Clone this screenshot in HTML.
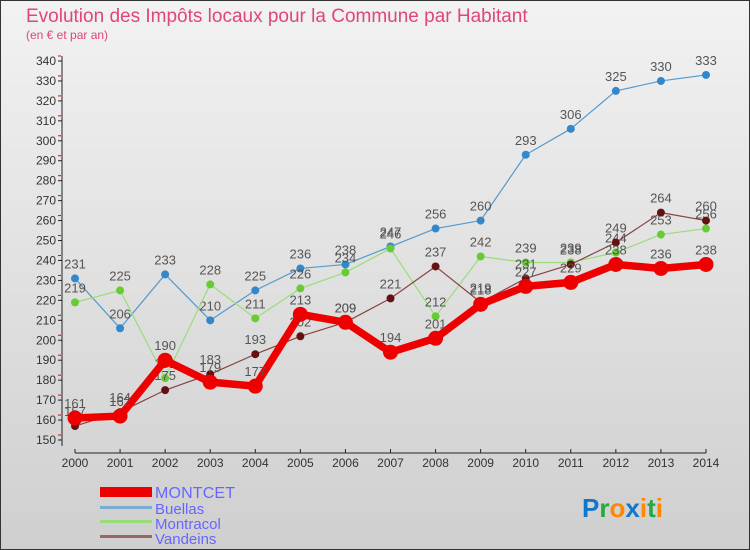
<!DOCTYPE html>
<html><head><meta charset="utf-8"><style>
body{margin:0;width:750px;height:550px;overflow:hidden;font-family:"Liberation Sans",sans-serif}
svg{display:block}
text{font-family:"Liberation Sans",sans-serif}
</style></head><body>
<svg id="c" width="750" height="550" viewBox="0 0 750 550">
<defs><linearGradient id="bg" x1="0" y1="0" x2="0" y2="1"><stop offset="0" stop-color="#f2f2f2"/><stop offset="1" stop-color="#cfcfcf"/></linearGradient></defs>
<rect x="0.5" y="0.5" width="749" height="549" fill="url(#bg)" stroke="#333"/>
<text x="26" y="22" font-size="19" fill="#e0457b">Evolution des Impôts locaux pour la Commune par Habitant</text>
<text x="26" y="39" font-size="12" fill="#e0457b">(en € et par an)</text>
<g id="axes"></g><g id="series"></g>
<g>
<rect x="100" y="487" width="52" height="10" fill="#e00"/>
<text x="155" y="498" font-size="16" fill="#6666ff" textLength="80">MONTCET</text>
<rect x="100" y="506" width="52" height="3" fill="#7aaed0"/>
<text x="155" y="514" font-size="15" fill="#6666ff">Buellas</text>
<rect x="100" y="520" width="52" height="3" fill="#99dd77"/>
<text x="155" y="529" font-size="15" fill="#6666ff">Montracol</text>
<rect x="100" y="535" width="52" height="3" fill="#996666"/>
<text x="155" y="544" font-size="15" fill="#6666ff">Vandeins</text>
</g>
<text x="582" y="517" font-size="26" font-weight="bold"><tspan fill="#1177cc">P</tspan><tspan fill="#22aa44">r</tspan><tspan fill="#ff8800">o</tspan><tspan fill="#1177cc">x</tspan><tspan fill="#ff8800">i</tspan><tspan fill="#22aa44">t</tspan><tspan fill="#ff8800">i</tspan></text>
</svg>
<script>
const years=[2000,2001,2002,2003,2004,2005,2006,2007,2008,2009,2010,2011,2012,2013,2014];
const montcet=[161,162,190,179,177,213,209,194,201,218,227,229,238,236,238];
const buellas=[231,206,233,210,225,236,238,247,256,260,293,306,325,330,333];
const montracol=[219,225,181,228,211,226,234,246,212,242,239,239,244,253,256];
const vandeins=[157,164,175,183,193,202,209,221,237,219,231,238,249,264,260];
const yTicks=[150,160,170,180,190,200,210,220,230,240,250,260,270,280,290,300,310,320,330,340];
const NS="http://www.w3.org/2000/svg";
const xS=i=>75+i*(706-75)/(years.length-1);
const yS=v=>440-(v-150)*(379/190);
function mk(t,a,p){const e=document.createElementNS(NS,t);for(const k in a)e.setAttribute(k,a[k]);p.appendChild(e);return e;}
const ax=document.getElementById('axes');
const yl=mk('line',{x1:62,y1:56,x2:62,y2:446,stroke:'#222'},ax);


const xl=mk('line',{x1:75,y1:453,x2:706,y2:453,stroke:'#222'},ax);


yTicks.forEach(v=>{
 const y=yS(v);
 mk('line',{x1:58,y1:y,x2:62,y2:y,stroke:'#222'},ax);
 mk('line',{x1:58,y1:y-5,x2:61,y2:y-5,stroke:'#e00'},ax);
 const t=mk('text',{x:56,y:y+4,'font-size':12,fill:'#333','text-anchor':'end'},ax);
 t.textContent=v;
 
 
});
years.forEach((yr,i)=>{
 const x=xS(i);
 mk('line',{x1:x,y1:449,x2:x,y2:453,stroke:'#222'},ax);
 const t=mk('text',{x:x,y:467,'font-size':12,fill:'#333','text-anchor':'middle'},ax);
 t.textContent=yr;
 
 
});
const sg=document.getElementById('series');
function series(vals,name,col,dot,w,r){
 const g=mk('g',{},sg);
 
 
 const pl=mk('polyline',{points:vals.map((v,i)=>xS(i)+','+yS(v)).join(' '),fill:'none',stroke:col,'stroke-width':w,'stroke-linejoin':'round'},g);
 
 
 vals.forEach((v,i)=>{
  const c=mk('circle',{cx:xS(i),cy:yS(v),r:r,fill:dot},g);
  
  
  const t=mk('text',{x:xS(i),y:yS(v)-10,'font-size':13,fill:'#555','text-anchor':'middle'},g);
  t.textContent=v;
  
  
 });
}
series(buellas,'buellas','#5599cc','#3388cc',1.2,4);
series(montracol,'montracol','#99dd77','#66cc33',1.2,4);
series(vandeins,'vandeins','#884444','#661111',1.2,4);
series(montcet,'montcet','#ee0000','#ee0000',7.5,7.5);
</script>
</body></html>
